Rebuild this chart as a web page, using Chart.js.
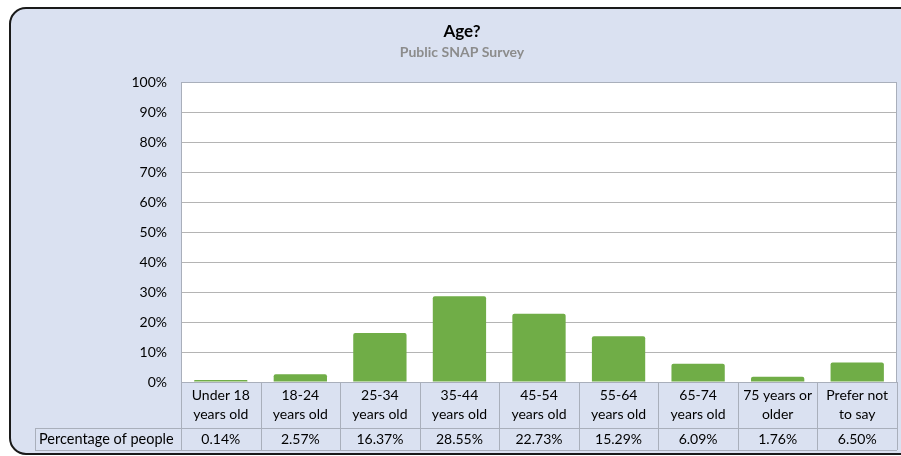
<!DOCTYPE html>
<html>
<head>
<meta charset="utf-8">
<script src="https://cdn.jsdelivr.net/npm/chart.js@4"></script>
<style>
  html, body { margin: 0; padding: 0; background: #ffffff; }
  #wrap { width: 901px; height: 456px; position: relative; }
</style>
</head>
<body>
<div id="wrap"><canvas id="ageChart"></canvas></div>
<script>
// Chart data
const categories = [
    ['Under 18', 'years old'],
    ['18-24', 'years old'],
    ['25-34', 'years old'],
    ['35-44', 'years old'],
    ['45-54', 'years old'],
    ['55-64', 'years old'],
    ['65-74', 'years old'],
    ['75 years or', 'older'],
    ['Prefer not', 'to say']
];
const percentages = [0.14, 2.57, 16.37, 28.55, 22.73, 15.29, 6.09, 1.76, 6.50];
const seriesName = 'Percentage of people';
const chartTitle = 'Age?';
const chartSubtitle = 'Public SNAP Survey';

const FONT = 'Lato, "Noto Sans", sans-serif';
const PANEL_BG = '#dae1f1';
const LINE_GRAY = '#a9afbb';

/**
 * Draws the panel background, title block, data table and frame
 */
const panelPlugin = {
    id: 'panel',
    beforeDraw(chart) {
        const { ctx, chartArea: a } = chart;
        ctx.save();
        ctx.beginPath();
        ctx.roundRect(10, 8, 905, 446, 16);
        ctx.fillStyle = PANEL_BG;
        ctx.fill();
        ctx.fillStyle = '#ffffff';
        ctx.fillRect(a.left, a.top, a.right - a.left, a.bottom - a.top);
        ctx.restore();
    },
    afterDraw(chart) {
        const { ctx, chartArea: a, scales } = chart;
        const x = scales.x;
        const step = (a.right - a.left) / categories.length;
        const tableBottom = 450;
        const rowTop = 428;
        const labelLeft = 35;

        ctx.save();
        ctx.strokeStyle = LINE_GRAY;
        ctx.lineWidth = 1;

        // plot frame
        ctx.strokeRect(a.left + 0.5, a.top + 0.5, a.right - a.left - 1, a.bottom - a.top);

        // table grid
        ctx.beginPath();
        for (let i = 0; i <= categories.length; i++) {
            const px = Math.round(a.left + i * step) + 0.5;
            ctx.moveTo(px, a.bottom);
            ctx.lineTo(px, tableBottom);
        }
        ctx.moveTo(labelLeft + 0.5, rowTop);
        ctx.lineTo(labelLeft + 0.5, tableBottom);
        ctx.moveTo(labelLeft, rowTop + 0.5);
        ctx.lineTo(a.right, rowTop + 0.5);
        ctx.moveTo(labelLeft, tableBottom + 0.5);
        ctx.lineTo(a.right, tableBottom + 0.5);
        ctx.stroke();

        // value row
        ctx.fillStyle = '#000000';
        ctx.font = '14.5px ' + FONT;
        ctx.textBaseline = 'middle';
        ctx.textAlign = 'left';
        ctx.fillText(seriesName, labelLeft + 4, 439.5);
        ctx.textAlign = 'center';
        ctx.font = '14px ' + FONT;
        percentages.forEach((v, i) => {
            ctx.fillText(v.toFixed(2) + '%', x.getPixelForValue(i), 439.5);
        });

        // titles
        ctx.font = 'bold 17px ' + FONT;
        ctx.fillStyle = '#000000';
        ctx.fillText(chartTitle, 462, 32);
        ctx.font = 'bold 14px ' + FONT;
        ctx.fillStyle = '#8c8c8c';
        ctx.fillText(chartSubtitle, 462, 52);

        // outer rounded border
        ctx.beginPath();
        ctx.roundRect(10, 8, 905, 446, 16);
        ctx.strokeStyle = '#1a1a1a';
        ctx.lineWidth = 2;
        ctx.stroke();
        ctx.restore();
    }
};

new Chart(document.getElementById('ageChart'), {
    type: 'bar',
    data: {
        labels: categories,
        datasets: [
            {
                label: seriesName,
                data: percentages,
                backgroundColor: '#70ad47',
                borderRadius: 2,
                borderSkipped: 'bottom',
                minBarLength: 2,
                categoryPercentage: 1,
                barPercentage: 0.67
            }
        ]
    },
    options: {
        responsive: true,
        maintainAspectRatio: false,
        animation: false,
        layout: {
            padding: { top: 82, right: 4, bottom: 0, left: 0 }
        },
        plugins: {
            legend: { display: false },
            tooltip: { enabled: false }
        },
        scales: {
            x: {
                offset: true,
                grid: { display: false, drawTicks: false },
                border: { display: false },
                ticks: {
                    color: '#000000',
                    font: { family: FONT, size: 14, lineHeight: 1.35 },
                    maxRotation: 0,
                    autoSkip: false,
                    padding: 4
                },
                afterFit(scale) { scale.height = 74; }
            },
            y: {
                min: 0,
                max: 100,
                grid: { color: '#b4b4b4', drawTicks: false },
                border: { display: false },
                ticks: {
                    stepSize: 10,
                    color: '#000000',
                    font: { family: FONT, size: 14 },
                    padding: 14,
                    callback: (v) => v + '%'
                },
                afterFit(scale) { scale.width = 181; }
            }
        }
    },
    plugins: [panelPlugin]
});
</script>
</body>
</html>
